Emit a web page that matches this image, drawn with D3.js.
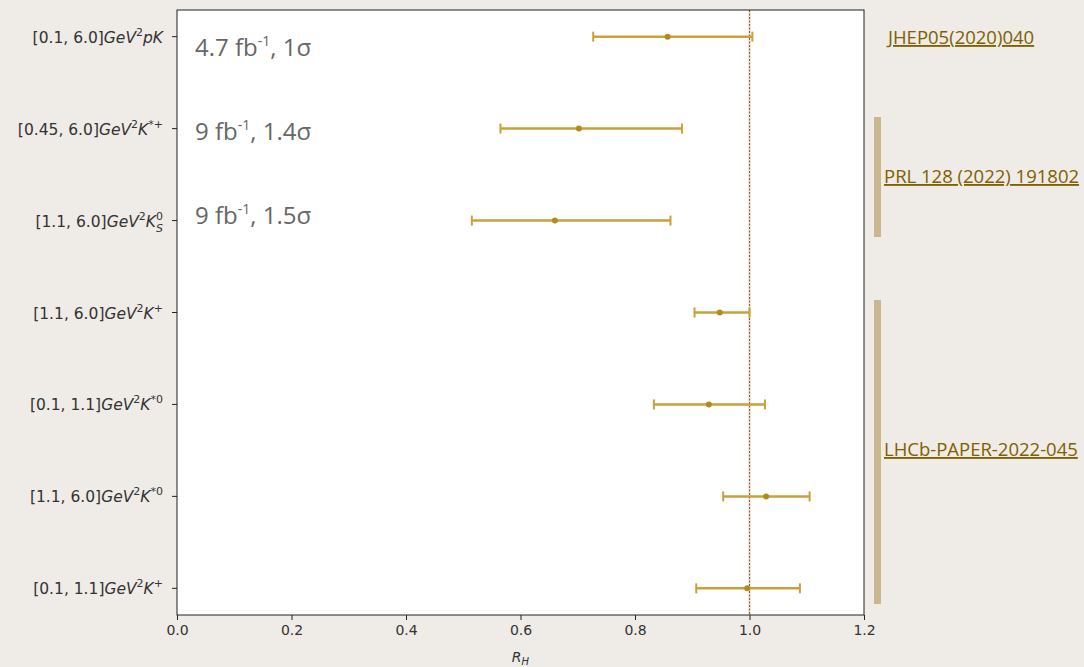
<!DOCTYPE html>
<html>
<head>
<meta charset="utf-8">
<script src="https://cdn.jsdelivr.net/npm/d3@7"></script>
<style>
  body { margin: 0; background: #efebe6; }
  svg { display: block; }
</style>
</head>
<body>
<script>
// ---------------- data ----------------
let ranges   = ["[0.1, 6.0]", "[0.45, 6.0]", "[1.1, 6.0]", "[1.1, 6.0]", "[0.1, 1.1]", "[1.1, 6.0]", "[0.1, 1.1]"];
let hadrons  = ["pK", "K*+", "KS0", "K+", "K*0", "K*0", "K+"];
let centers  = [0.857, 0.702, 0.660, 0.948, 0.929, 1.029, 0.996];
let lows     = [0.727, 0.565, 0.515, 0.904, 0.833, 0.954, 0.907];
let highs    = [1.005, 0.882, 0.862, 1.000, 1.027, 1.105, 1.088];
let xTicks   = [0.0, 0.2, 0.4, 0.6, 0.8, 1.0, 1.2];
let notes    = [["4.7", "1σ"], ["9", "1.4σ"], ["9", "1.5σ"]];
let refs     = ["JHEP05(2020)040", "PRL 128 (2022) 191802", "LHCb-PAPER-2022-045"];

let w = 1084, h = 667;
let m = {left: 177, right: 864, top: 10, bottom: 615};
let gold = "#c9a03c", goldDot = "#b48a1e";

let svg = d3.select("body").append("svg")
    .attr("width", w).attr("height", h);

let x = d3.scaleLinear().domain([0, 1.2]).range([m.left, m.right]);
let y = d3.scalePoint().domain(d3.range(ranges.length)).range([m.top, m.bottom]).padding(0.29);

// plot area
svg.append("rect")
    .attr("x", m.left).attr("y", m.top)
    .attr("width", m.right - m.left).attr("height", m.bottom - m.top)
    .attr("fill", "#fff");

// reference line at 1
svg.append("line")
    .attr("x1", x(1)).attr("x2", x(1)).attr("y1", m.top).attr("y2", m.bottom)
    .attr("stroke", "#f6e6cc").attr("stroke-width", 3);
svg.append("line")
    .attr("x1", x(1)).attr("x2", x(1)).attr("y1", m.top).attr("y2", m.bottom)
    .attr("stroke", "#666").attr("stroke-width", 1).attr("stroke-dasharray", "2,1.5");

// error bars
let bars = svg.selectAll("g.bar").data(centers).enter().append("g").attr("class", "bar");
bars.append("line")
    .attr("x1", (d, i) => x(lows[i])).attr("x2", (d, i) => x(highs[i]))
    .attr("y1", (d, i) => y(i)).attr("y2", (d, i) => y(i))
    .attr("stroke", gold).attr("stroke-width", 2.5);
bars.append("line")
    .attr("x1", (d, i) => x(lows[i])).attr("x2", (d, i) => x(lows[i]))
    .attr("y1", (d, i) => y(i) - 5).attr("y2", (d, i) => y(i) + 5)
    .attr("stroke", gold).attr("stroke-width", 2);
bars.append("line")
    .attr("x1", (d, i) => x(highs[i])).attr("x2", (d, i) => x(highs[i]))
    .attr("y1", (d, i) => y(i) - 5).attr("y2", (d, i) => y(i) + 5)
    .attr("stroke", gold).attr("stroke-width", 2);
bars.append("circle")
    .attr("cx", d => x(d)).attr("cy", (d, i) => y(i)).attr("r", 3)
    .attr("fill", goldDot);

// frame
svg.append("rect")
    .attr("x", m.left).attr("y", m.top)
    .attr("width", m.right - m.left).attr("height", m.bottom - m.top)
    .attr("fill", "none").attr("stroke", "#222").attr("stroke-width", 1);

// x axis
let xAxis = svg.append("g")
    .attr("transform", `translate(0,${m.bottom})`)
    .call(d3.axisBottom(x).tickValues(xTicks).tickFormat(d3.format(".1f")).tickSizeOuter(0).tickSize(5));
xAxis.select(".domain").remove();
xAxis.selectAll("line").attr("stroke", "#222");
xAxis.selectAll("text")
    .attr("font-family", "DejaVu Sans").attr("font-size", "14px").attr("fill", "#333").attr("dy", "0.85em");

svg.append("text")
    .attr("x", (m.left + m.right) / 2).attr("y", 662)
    .attr("text-anchor", "middle")
    .attr("font-family", "DejaVu Sans").attr("font-size", "14px").attr("font-style", "italic").attr("fill", "#333")
    .text("R").append("tspan").attr("font-size", "10px").attr("dy", 3).text("H");

// y axis ticks
svg.selectAll("line.ytick").data(ranges).enter().append("line")
    .attr("x1", m.left - 5).attr("x2", m.left)
    .attr("y1", (d, i) => y(i)).attr("y2", (d, i) => y(i))
    .attr("stroke", "#222");

// y labels with math
let labels = svg.selectAll("text.ylab").data(ranges).enter().append("text")
    .attr("class", "ylab")
    .attr("x", m.left - 14).attr("y", (d, i) => y(i) + 6)
    .attr("text-anchor", "end")
    .attr("font-family", "DejaVu Sans").attr("font-size", "15.5px").attr("fill", "#333");

labels.each(function(d, i) {
  let t = d3.select(this);
  t.append("tspan").text(d);
  t.append("tspan").attr("font-style", "italic").text("GeV");
  t.append("tspan").attr("font-size", "11px").attr("dy", -7).text("2");
  let hd = hadrons[i];
  if (hd === "pK") {
    t.append("tspan").attr("font-style", "italic").attr("dy", 7).text("pK");
  } else if (hd === "KS0") {
    t.append("tspan").attr("font-style", "italic").attr("dy", 7).text("K");
    t.append("tspan").attr("font-size", "11px").attr("dy", -7).text("0");
    t.append("tspan").attr("font-size", "11px").attr("font-style", "italic").attr("dx", -7).attr("dy", 12).text("S");
  } else {
    t.append("tspan").attr("font-style", "italic").attr("dy", 7).text("K");
    t.append("tspan").attr("font-size", "11px").attr("dy", -7).text(hd.slice(1));
  }
});

// luminosity notes
let noteText = svg.selectAll("text.note").data(notes).enter().append("text")
    .attr("x", 195).attr("y", (d, i) => 56 + i * 84)
    .attr("font-family", "Open Sans").attr("font-size", "24px").attr("fill", "#666");
noteText.each(function(d) {
  let t = d3.select(this);
  t.append("tspan").text(d[0] + " fb");
  t.append("tspan").attr("font-size", "14px").attr("dy", -10).text("-1");
  t.append("tspan").attr("dy", 10).text(", " + d[1]);
});

// reference brackets
svg.append("rect").attr("x", 874).attr("y", 117).attr("width", 7).attr("height", 120).attr("fill", "#c8b78f");
svg.append("rect").attr("x", 874).attr("y", 300).attr("width", 7).attr("height", 304).attr("fill", "#c8b78f");

let refPos = [[888, 44], [884, 183], [884, 456]];
svg.selectAll("text.ref").data(refs).enter().append("text")
    .attr("x", (d, i) => refPos[i][0]).attr("y", (d, i) => refPos[i][1])
    .attr("font-family", "Open Sans").attr("font-size", "18.5px").attr("fill", "#7f6000")
    .attr("text-decoration", "underline")
    .text(d => d);
</script>
</body>
</html>
